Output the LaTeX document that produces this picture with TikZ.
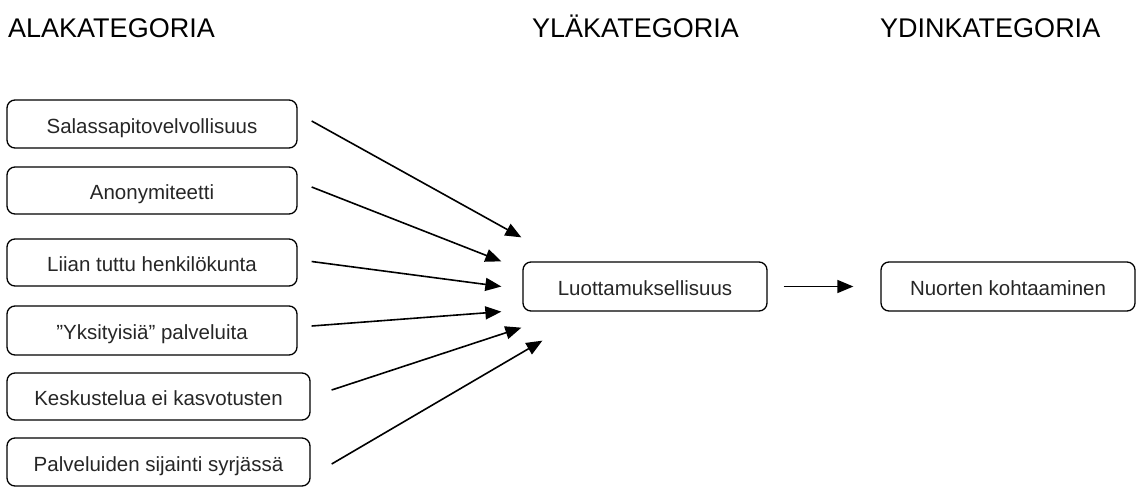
\documentclass[tikz,border=0pt]{standalone}
\usepackage{fontspec}
\setmainfont{Liberation Sans}
\usetikzlibrary{arrows.meta}
\begin{document}
\begin{tikzpicture}[x=1pt,y=-1pt,
  catbox/.style={draw, line width=1.3pt, rounded corners=8pt, inner sep=0pt,
                 text height=18pt, text depth=0pt,
                 font=\fontsize{20.5}{23}\selectfont, text=black!85},
  headline/.style={anchor=base west, inner sep=0pt, font=\fontsize{27}{31}\selectfont},
  link/.style={line width=1.6pt, -{Triangle[length=16pt,width=13pt]}}]
\useasboundingbox (0,0) rectangle (1137,493);

% column headings
\node[headline] (h1) at (8,37) {ALAKATEGORIA};
\node[headline] (h2) at (532,37) {YLÄKATEGORIA};
\node[headline] (h3) at (880,37) {YDINKATEGORIA};

% sub-categories
\node[catbox, minimum width=290pt, minimum height=48pt] (b1) at (152,124) {Salassapitovelvollisuus};
\node[catbox, minimum width=290pt, minimum height=47pt] (b2) at (152,190.5) {Anonymiteetti};
\node[catbox, minimum width=290pt, minimum height=47pt] (b3) at (152,262.5) {Liian tuttu henkilökunta};
\node[catbox, minimum width=290pt, minimum height=49pt] (b4) at (152,330.5) {”Yksityisiä” palveluita};
\node[catbox, minimum width=303pt, minimum height=47pt] (b5) at (158.5,396.5) {Keskustelua ei kasvotusten};
\node[catbox, minimum width=303pt, minimum height=48pt] (b6) at (158.5,462) {Palveluiden sijainti syrjässä};

% upper and core category
\node[catbox, minimum width=244pt, minimum height=49pt] (up) at (645,286.5) {Luottamuksellisuus};
\node[catbox, minimum width=254pt, minimum height=49pt] (core) at (1008,286.5) {Nuorten kohtaaminen};

% arrow ends around the upper category
\coordinate (s1) at ([xshift=14pt,yshift=3pt]b1.east);
\coordinate (s2) at ([xshift=14pt,yshift=3.5pt]b2.east);
\coordinate (s3) at ([xshift=14pt,yshift=1pt]b3.east);
\coordinate (s4) at ([xshift=14pt,yshift=4.5pt]b4.east);
\coordinate (s5) at ([xshift=21pt,yshift=6.5pt]b5.east);
\coordinate (s6) at ([xshift=21pt,yshift=-2pt]b6.east);

\coordinate (t1) at ([xshift=-1pt,yshift=24pt]up.north west);
\coordinate (t2) at ([xshift=-21pt]up.north west);
\coordinate (t3) at ([xshift=-21pt]up.west);
\coordinate (t4) at ([xshift=-21pt]up.south west);
\coordinate (t5) at ([xshift=-1pt,yshift=-16pt]up.south west);
\coordinate (t6) at ([xshift=20pt,yshift=-29pt]up.south west);

\draw[link] (s1) -- (t1);
\draw[link] (s2) -- (t2);
\draw[link] (s3) -- (t3);
\draw[link] (s4) -- (t4);
\draw[link] (s5) -- (t5);
\draw[link] (s6) -- (t6);

\draw[link, shorten <=16pt, shorten >=27pt] (up.east) -- (core.west);
\end{tikzpicture}
\end{document}
